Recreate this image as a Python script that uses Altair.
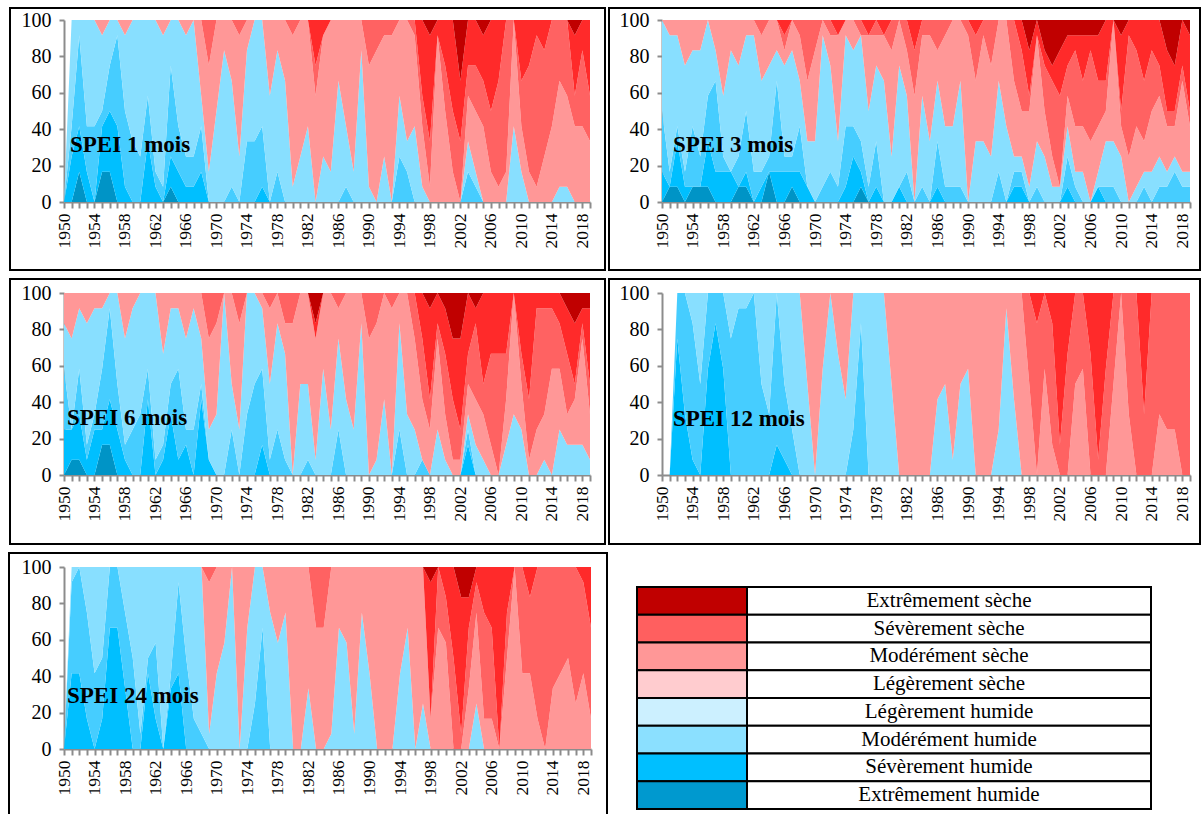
import altair as alt
import pandas as pd

SERIF = "Liberation Serif"

years = list(range(1950, 2020))

classes = ["Extrêmement humide", "Sévèrement humide", "Modérément humide", "Légèrement humide",
           "Légèrement sèche", "Modérément sèche", "Sévèrement sèche", "Extrêmement sèche"]
area_colors = ["#0094C6", "#00BFFF", "#46CDFF", "#88DFFF", "#FF9797", "#FF6262", "#FF2A2A", "#C00000"]

legend_labels = ["Extrêmement sèche", "Sévèrement sèche", "Modérément sèche", "Légèrement sèche",
                 "Légèrement humide", "Modérément humide", "Sévèrement humide", "Extrêmement humide"]
legend_colors = ["#C00000", "#FF5F5F", "#FF9797", "#FFCCCF", "#CCF0FF", "#8BE0FF", "#00BFFF", "#0099CF"]

Z10 = [0, 0, 0, 0, 0, 0, 0, 0, 0, 0]

# ---- SPEI 1 mois : number of months (out of 12) in each class, 1950..2019
spei1_eh = [0, 0, 2, 0, 0, 2, 2, 0, 0, 0] + [0, 0, 0, 0, 1, 0, 0, 0, 0, 0] + Z10 * 5
spei1_sh = [0, 3, 3, 2, 0, 3, 4, 5, 1, 0] + [0, 4, 1, 0, 2, 2, 1, 1, 2, 0] + [0, 0, 0, 0, 0, 0, 1, 0, 0, 0] + Z10 * 4
spei1_mh = ([0, 2, 6, 3, 5, 1, 3, 6, 5, 4] + [3, 3, 1, 1, 6, 3, 2, 2, 3, 0] + [0, 0, 1, 0, 4, 4, 4, 0, 2, 0]
            + [0, 0, 0, 0, 0, 0, 0, 1, 0, 0] + [0, 0, 0, 0, 3, 2, 0, 0, 0, 0] + [0, 0, 0, 2, 1, 0, 0, 0, 0, 0] + Z10)
spei1_lh = ([0, 7, 1, 7, 7, 5, 3, 1, 5, 8] + [9, 5, 10, 10, 3, 7, 8, 9, 2, 2] + [6, 10, 7, 3, 6, 8, 7, 7, 8, 8]
            + [1, 3, 5, 0, 3, 2, 8, 4, 2, 10] + [1, 0, 3, 0, 4, 2, 5, 1, 0, 0] + [0, 0, 0, 2, 1, 0, 0, 0, 0, 5]
            + [2, 0, 0, 0, 0, 1, 1, 0, 0, 0])
spei1_ld = ([0, 0, 0, 0, 0, 1, 0, 0, 1, 0] + [0, 0, 0, 1, 0, 0, 1, 0, 5, 7] + [6, 2, 4, 8, 2, 0, 0, 5, 2, 4]
            + [10, 9, 7, 7, 8, 10, 4, 7, 10, 2] + [8, 10, 8, 11, 5, 8, 6, 4, 1, 11] + [6, 2, 0, 3, 4, 5, 2, 1, 2, 7]
            + [3, 2, 1, 3, 5, 7, 6, 5, 5, 4])
spei1_md = (Z10 + [0, 0, 0, 0, 0, 0, 0, 0, 0, 3] + [0, 0, 0, 1, 0, 0, 0, 0, 0, 0] + [1, 0, 0, 2, 0, 0, 0, 0, 0, 0]
            + [3, 2, 1, 1, 0, 0, 1, 2, 3, 0] + [3, 4, 4, 2, 3, 3, 4, 7, 10, 0] + [3, 7, 10, 7, 7, 4, 5, 2, 5, 3])
spei1_sd = (Z10 * 3 + [0, 0, 0, 3, 1, 0, 0, 0, 0, 0] + [0, 0, 0, 0, 0, 0, 0, 5, 7, 1]
            + [3, 6, 4, 3, 3, 3, 6, 4, 0, 0] + [4, 3, 1, 2, 0, 0, 0, 4, 2, 5])
spei1_ed = Z10 * 4 + [0, 0, 0, 0, 0, 0, 0, 0, 1, 0] + [0, 0, 4, 0, 0, 1, 0, 0, 0, 0] + [0, 0, 0, 0, 0, 0, 0, 1, 0, 0]

# ---- SPEI 3 mois
spei3_eh = [0, 1, 1, 0, 1, 1, 1, 0, 0, 0] + [1, 1, 0, 0, 2, 0, 0, 1, 0, 0] + [0, 0, 0, 0, 0, 0, 1, 0, 0, 0] + Z10 * 4
spei3_sh = ([2, 0, 3, 1, 0, 0, 3, 2, 2, 2] + [0, 1, 0, 1, 0, 2, 2, 1, 2, 1] + [0, 0, 0, 0, 1, 3, 1, 0, 1, 0]
            + [0, 1, 0, 0, 0, 0, 1, 0, 0, 0] + [0, 0, 0, 0, 0, 0, 1, 1, 0, 0] + [0, 0, 0, 1, 0, 0, 0, 1, 0, 0] + Z10)
spei3_mh = ([4, 1, 1, 1, 4, 2, 3, 6, 1, 0] + [2, 4, 2, 1, 1, 6, 1, 1, 3, 0] + [0, 1, 2, 1, 4, 2, 2, 1, 3, 0]
            + [0, 0, 2, 0, 1, 0, 3, 1, 1, 1] + [0, 0, 0, 0, 2, 0, 1, 1, 0, 1] + [0, 0, 0, 2, 1, 0, 0, 0, 1, 1]
            + [0, 0, 0, 1, 0, 1, 1, 2, 1, 1])
spei3_lh = ([6, 9, 6, 7, 5, 7, 5, 2, 4, 8] + [6, 5, 9, 6, 6, 2, 6, 7, 3, 3] + [4, 10, 7, 3, 6, 5, 7, 5, 5, 8]
            + [3, 8, 5, 0, 6, 4, 4, 4, 4, 7] + [0, 4, 4, 3, 6, 5, 1, 1, 1, 3] + [3, 1, 1, 2, 1, 2, 0, 1, 3, 3]
            + [3, 0, 1, 1, 2, 2, 1, 1, 1, 1])
spei3_ld = ([0, 1, 1, 3, 2, 2, 0, 2, 5, 2] + [3, 1, 1, 3, 3, 2, 1, 2, 3, 4] + [6, 1, 2, 7, 1, 2, 0, 5, 2, 3]
            + [7, 3, 3, 7, 4, 7, 2, 6, 7, 4] + [11, 4, 7, 6, 4, 7, 5, 3, 5, 7] + [3, 2, 0, 2, 3, 3, 4, 3, 2, 8]
            + [2, 3, 4, 2, 4, 4, 3, 2, 6, 3])
spei3_md = (Z10 + [0, 0, 0, 1, 0, 0, 1, 0, 1, 4] + [2, 0, 1, 0, 0, 0, 1, 0, 1, 0] + [2, 0, 2, 3, 1, 1, 2, 1, 0, 0]
            + [1, 3, 1, 3, 0, 0, 4, 4, 1, 0] + [3, 5, 6, 2, 5, 3, 6, 3, 2, 0] + [1, 8, 5, 4, 4, 2, 1, 1, 1, 1])
spei3_sd = (Z10 + [0, 0, 0, 0, 0, 0, 1, 0, 0, 0] + [0, 0, 0, 1, 0, 0, 0, 1, 0, 1] + [0, 0, 0, 2, 0, 0, 0, 0, 0, 0]
            + [0, 1, 0, 0, 0, 0, 0, 2, 3, 1] + [1, 1, 3, 2, 1, 3, 1, 3, 4, 0] + [5, 1, 2, 4, 2, 3, 4, 3, 3, 5])
spei3_ed = Z10 * 4 + [0, 0, 0, 0, 0, 0, 0, 0, 2, 0] + [2, 3, 2, 1, 1, 1, 1, 1, 0, 0] + [1, 0, 0, 0, 0, 0, 2, 3, 0, 1]

# ---- SPEI 6 mois
spei6_eh = [0, 1, 1, 0, 0, 2, 2, 0, 0, 0] + Z10 * 6
spei6_sh = ([3, 2, 3, 1, 3, 1, 3, 3, 1, 0] + [0, 5, 0, 1, 4, 1, 2, 0, 5, 1] + [0, 0, 0, 0, 0, 0, 2, 0, 0, 0]
            + Z10 + Z10 + [0, 0, 0, 2, 0, 0, 0, 0, 0, 0] + Z10)
spei6_mh = ([4, 0, 3, 1, 1, 4, 6, 3, 1, 3] + [4, 2, 1, 1, 2, 6, 1, 3, 1, 0] + [0, 0, 3, 0, 4, 6, 5, 1, 3, 1]
            + [0, 0, 1, 0, 0, 0, 3, 0, 0, 0] + [0, 0, 0, 0, 3, 0, 0, 1, 0, 0] + [0, 0, 0, 1, 0, 0, 0, 0, 0, 0] + Z10)
spei6_lh = ([3, 6, 4, 8, 7, 4, 1, 6, 7, 8] + [8, 5, 11, 6, 5, 4, 6, 8, 3, 2] + [4, 12, 3, 3, 8, 6, 4, 5, 7, 7]
            + [0, 6, 5, 1, 7, 3, 6, 5, 3, 10] + [0, 1, 5, 0, 7, 4, 3, 0, 0, 3] + [1, 0, 0, 1, 2, 1, 0, 0, 2, 4]
            + [3, 0, 0, 1, 0, 3, 2, 2, 2, 1])
spei6_ld = ([2, 3, 1, 2, 1, 1, 0, 0, 3, 1] + [0, 0, 0, 4, 1, 1, 3, 1, 3, 6] + [6, 0, 6, 7, 0, 0, 1, 5, 2, 2]
            + [10, 6, 6, 8, 5, 9, 2, 7, 9, 2] + [9, 9, 7, 11, 2, 8, 6, 4, 3, 6] + [3, 1, 1, 2, 3, 3, 2, 0, 3, 8]
            + [3, 1, 3, 3, 7, 4, 2, 3, 7, 3])
spei6_md = (Z10 + [0, 0, 0, 0, 0, 0, 0, 0, 0, 3] + [2, 0, 0, 2, 0, 0, 0, 1, 0, 2] + [2, 0, 0, 0, 0, 0, 1, 0, 0, 0]
            + [3, 2, 0, 1, 0, 0, 3, 4, 2, 1] + [4, 4, 2, 2, 5, 2, 6, 8, 3, 0] + [2, 4, 8, 7, 4, 3, 4, 1, 1, 2])
spei6_sd = (Z10 * 3 + [0, 0, 0, 1, 0, 0, 0, 0, 0, 0] + [0, 0, 0, 0, 0, 0, 0, 3, 6, 2]
            + [3, 4, 6, 4, 1, 6, 4, 4, 4, 0] + [4, 7, 1, 1, 1, 2, 3, 4, 1, 5])
spei6_ed = (Z10 * 3 + [0, 0, 0, 2, 0, 0, 0, 0, 0, 0] + [0, 0, 0, 0, 0, 0, 0, 0, 1, 0]
            + [1, 3, 3, 0, 1, 0, 0, 0, 0, 0] + [0, 0, 0, 0, 0, 0, 1, 2, 1, 1])

# ---- SPEI 12 mois
spei12_eh = Z10 * 7
spei12_sh = [0, 0, 9, 4, 1, 0, 7, 10, 7, 0] + [0, 0, 0, 0, 0, 2, 1, 0, 0, 0] + Z10 * 5
spei12_mh = ([0, 0, 3, 8, 9, 6, 5, 2, 5, 9] + [11, 11, 12, 6, 4, 10, 5, 3, 0, 0] + [0, 0, 0, 0, 0, 3, 10, 0, 0, 0]
             + Z10 * 4)
spei12_lh = ([0, 0, 0, 0, 2, 6, 0, 0, 0, 3] + [1, 1, 0, 6, 8, 0, 6, 9, 12, 6] + [0, 7, 12, 8, 5, 9, 2, 12, 12, 12]
             + [6, 0, 0, 0, 0, 0, 5, 6, 1, 6] + [7, 0, 0, 0, 3, 11, 5, 0, 0, 0] + Z10 * 2)
spei12_ld = (Z10 + [0, 0, 0, 0, 0, 0, 0, 0, 0, 6] + [12, 5, 0, 4, 7, 0, 0, 0, 0, 0]
             + [6, 12, 12, 12, 12, 12, 7, 6, 11, 6] + [5, 12, 12, 12, 9, 1, 7, 12, 6, 0]
             + [7, 2, 0, 0, 6, 7, 0, 0, 0, 6] + [12, 4, 0, 0, 0, 4, 3, 3, 0, 0])
spei12_md = (Z10 * 4 + [0, 0, 0, 0, 0, 0, 0, 0, 6, 10] + [5, 8, 2, 8, 6, 5, 8, 1, 7, 6]
             + [0, 8, 12, 4, 12, 8, 9, 9, 12, 12])
spei12_sd = Z10 * 4 + [0, 0, 0, 0, 0, 0, 0, 0, 0, 2] + [0, 2, 10, 4, 0, 0, 4, 11, 5, 0] + [0, 0, 0, 8, 0, 0, 0, 0, 0, 0]
spei12_ed = Z10 * 7

# ---- SPEI 24 mois
spei24_eh = Z10 * 7
spei24_sh = [0, 5, 5, 2, 0, 2, 8, 8, 4, 0] + [0, 5, 2, 0, 4, 5, 0, 0, 0, 0] + Z10 * 5
spei24_mh = ([0, 6, 7, 7, 5, 4, 4, 4, 5, 6] + [1, 1, 5, 0, 1, 6, 6, 2, 1, 0] + [0, 0, 0, 0, 0, 3, 8, 0, 0, 0]
             + Z10 * 4)
spei24_lh = ([0, 1, 0, 3, 7, 6, 0, 0, 3, 6] + [11, 6, 5, 12, 7, 1, 6, 10, 11, 1] + [5, 7, 12, 0, 8, 9, 4, 9, 7, 9]
             + [0, 0, 4, 0, 0, 1, 8, 7, 1, 9] + [5, 0, 0, 0, 5, 8, 0, 3, 0, 0] + [0, 0, 0, 0, 3, 0, 0, 0, 0, 0] + Z10)
spei24_ld = (Z10 + [0, 0, 0, 0, 0, 0, 0, 0, 0, 10] + [7, 5, 0, 12, 4, 0, 0, 3, 5, 3]
             + [12, 12, 8, 8, 8, 11, 4, 5, 11, 3] + [7, 12, 12, 12, 7, 4, 12, 9, 2, 8]
             + [7, 0, 0, 4, 6, 2, 2, 0, 6, 12] + [5, 5, 2, 0, 4, 5, 6, 3, 5, 2])
spei24_md = (Z10 + [0, 0, 0, 0, 0, 0, 0, 0, 0, 1] + Z10 + [0, 0, 0, 4, 4, 0, 0, 0, 0, 0]
             + [0, 0, 0, 0, 0, 0, 0, 0, 0, 4] + [3, 6, 1, 4, 2, 7, 6, 0, 3, 0] + [7, 5, 10, 12, 8, 7, 6, 9, 6, 6])
spei24_sd = Z10 * 4 + [0, 0, 0, 0, 0, 0, 0, 0, 9, 0] + [2, 6, 9, 2, 1, 3, 4, 12, 3, 0] + [0, 2, 0, 0, 0, 0, 0, 0, 1, 4]
spei24_ed = Z10 * 4 + [0, 0, 0, 0, 0, 0, 0, 0, 1, 0] + [0, 0, 2, 2, 0, 0, 0, 0, 0, 0] + Z10

titles = ["SPEI 1 mois", "SPEI 3 mois", "SPEI 6 mois", "SPEI 12 mois", "SPEI 24 mois"]


def val(s, i):
    return s[i] if i < len(s) else 0


def panel(title, series, width, height, label_xy, frame):
    rows = []
    for i, yr in enumerate(years):
        total = sum(val(s, i) for s in series)
        for k, s in enumerate(series):
            rows.append({"annee": yr, "classe": classes[k], "rang": k,
                         "pct": (100.0 * val(s, i) / total) if total else 0.0})
    df = pd.DataFrame(rows)
    xaxis = alt.Axis(values=years, labelExpr="(datum.value - 1950) % 4 == 0 ? '' + datum.value : ''",
                     labelAngle=270, labelAlign="right", labelBaseline="middle",
                     labelFont=SERIF, labelFontSize=17.5, labelColor="black", labelPadding=5,
                     labelOverlap=False, labelFlush=False, tickSize=6, tickColor="#8C8C8C", tickWidth=2,
                     domainColor="#8C8C8C", domainWidth=2, grid=False, title=None)
    yaxis = alt.Axis(values=[0, 20, 40, 60, 80, 100], format="d", labelFont=SERIF, labelFontSize=20,
                     labelColor="black", labelPadding=8, tickSize=5, tickColor="#8C8C8C", tickWidth=2,
                     domainColor="#8C8C8C", domainWidth=2, grid=False, title=None)
    area = alt.Chart(df).mark_area(interpolate="linear").encode(
        x=alt.X("annee:Q", scale=alt.Scale(domain=[1950, 2019], nice=False, zero=False), axis=xaxis),
        y=alt.Y("pct:Q", stack="zero", scale=alt.Scale(domain=[0, 100], nice=False), axis=yaxis),
        color=alt.Color("classe:N", scale=alt.Scale(domain=classes, range=area_colors), legend=None),
        order=alt.Order("rang:Q", sort="ascending"),
    )
    ann = pd.DataFrame({"titre": [title]})
    label = alt.Chart(ann).mark_text(align="left", baseline="middle", font=SERIF, fontSize=23,
                                     fontWeight="bold", color="black").encode(
        x=alt.value(label_xy[0]), y=alt.value(label_xy[1]), text="titre:N")
    box = alt.Chart(ann).mark_rect(filled=False, stroke="black", strokeWidth=2).encode(
        x=alt.value(frame[0]), x2=alt.value(frame[1]), y=alt.value(frame[2]), y2=alt.value(frame[3]))
    return alt.layer(area, label, box).properties(width=width, height=height)


p1 = panel(titles[0], [spei1_eh, spei1_sh, spei1_mh, spei1_lh, spei1_ld, spei1_md, spei1_sd, spei1_ed],
           526, 182, (6, 125), (-54, 541, -12, 250))
p2 = panel(titles[1], [spei3_eh, spei3_sh, spei3_mh, spei3_lh, spei3_ld, spei3_md, spei3_sd, spei3_ed],
           528, 182, (11, 125), (-53, 538, -12, 250))
p3 = panel(titles[2], [spei6_eh, spei6_sh, spei6_mh, spei6_lh, spei6_ld, spei6_md, spei6_sd, spei6_ed],
           526, 182, (3, 125), (-54, 541, -14, 251))
p4 = panel(titles[3], [spei12_eh, spei12_sh, spei12_mh, spei12_lh, spei12_ld, spei12_md, spei12_sd, spei12_ed],
           528, 182, (11, 126), (-53, 538, -14, 251))
p5 = panel(titles[4], [spei24_eh, spei24_sh, spei24_mh, spei24_lh, spei24_ld, spei24_md, spei24_sd, spei24_ed],
           527, 182, (3, 129), (-55, 543, -14, 250))

# ---- legend table
tdf = pd.DataFrame({"libelle": legend_labels, "ligne": list(range(len(legend_labels)))})
tdf["fin"] = tdf["ligne"] + 1
tdf["milieu"] = tdf["ligne"] + 0.5
yscale = alt.Scale(domain=[-0.72, 8], reverse=True, nice=False, zero=False)
cells = alt.Chart(tdf).mark_rect(fill="white", stroke="black", strokeWidth=2).encode(
    x=alt.value(110), x2=alt.value(514),
    y=alt.Y("ligne:Q", scale=yscale, axis=None), y2="fin:Q")
swatches = alt.Chart(tdf).mark_rect(stroke="black", strokeWidth=2).encode(
    x=alt.value(0), x2=alt.value(110),
    y=alt.Y("ligne:Q", scale=yscale, axis=None), y2="fin:Q",
    fill=alt.Fill("libelle:N", scale=alt.Scale(domain=legend_labels, range=legend_colors), legend=None))
texts = alt.Chart(tdf).mark_text(font=SERIF, fontSize=21, color="black", baseline="middle").encode(
    x=alt.value(312), y=alt.Y("milieu:Q", scale=yscale, axis=None), text="libelle:N")
table = alt.layer(cells, swatches, texts).properties(width=514, height=242)

row1 = alt.hconcat(p1, p2, spacing=72, bounds="flush")
row2 = alt.hconcat(p3, p4, spacing=72, bounds="flush")
row3 = alt.hconcat(p5, table, spacing=46, bounds="flush")

chart = alt.vconcat(row1, row2, row3, spacing=7).properties(
    padding={"left": 8, "top": 7, "right": 0, "bottom": 0}, background="white"
).configure_view(stroke=None)

chart.save("out.html", embed_options={"renderer": "svg", "actions": False})
